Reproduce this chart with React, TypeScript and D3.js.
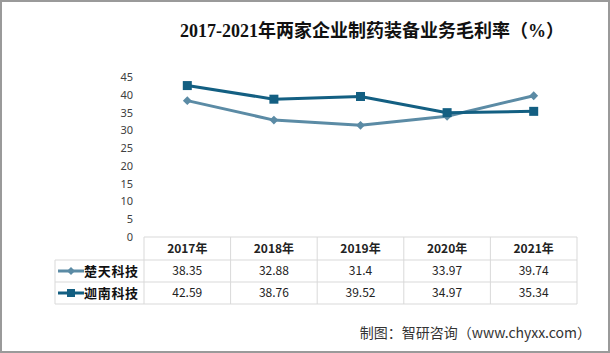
import React, { useRef, useEffect } from 'react';
import * as d3 from 'd3';

const years = ['2017年', '2018年', '2019年', '2020年', '2021年'];
const chutian = [38.35, 32.88, 31.4, 33.97, 39.74];
const jianan = [42.59, 38.76, 39.52, 34.97, 35.34];
const seriesNames = ['楚天科技', '迦南科技'];
const yTicks = [0, 5, 10, 15, 20, 25, 30, 35, 40, 45];

const W = 610;
const H = 353;
const colors = ['#5b8ba5', '#135f82'];

const App = () => {
  const svgRef = useRef<SVGSVGElement>(null);

  useEffect(() => {
    const svg = d3.select(svgRef.current);
    svg.selectAll('*').remove();

    const x = d3.scaleBand().domain(years).range([144, 577]);
    const y = d3.scaleLinear().domain([0, 45]).range([237, 77]);
    const cx = (d: string) => (x(d) as number) + x.bandwidth() / 2;

    svg.append('rect').attr('width', W).attr('height', H).attr('fill', '#fff');
    svg.append('rect')
      .attr('x', 1).attr('y', 1).attr('width', W - 2).attr('height', H - 2)
      .attr('fill', 'none').attr('stroke', '#9a9a9a').attr('stroke-width', 2);

    svg.append('text')
      .attr('x', 372).attr('y', 37)
      .attr('text-anchor', 'middle')
      .attr('font-family', '"Liberation Serif", "Noto Sans CJK SC", serif')
      .attr('font-size', 18)
      .attr('font-weight', 'bold')
      .attr('fill', '#111')
      .text('2017-2021年两家企业制药装备业务毛利率（%）');

    // y axis labels
    svg.append('g').selectAll('text').data(yTicks).join('text')
      .attr('x', 133).attr('y', d => y(d) + 4)
      .attr('text-anchor', 'end')
      .attr('font-family', '"Noto Sans", "DejaVu Sans", sans-serif')
      .attr('font-size', 11)
      .attr('fill', '#404040')
      .text(d => d);

    const all = [chutian, jianan];
    const line = d3.line<number>().x((d, i) => cx(years[i])).y(d => y(d));
    all.forEach((vals, si) => {
      svg.append('path').datum(vals)
        .attr('d', line)
        .attr('fill', 'none')
        .attr('stroke', colors[si])
        .attr('stroke-width', 3)
        .attr('stroke-linejoin', 'round');
      const g = svg.append('g');
      if (si === 0) {
        g.selectAll('path').data(vals).join('path')
          .attr('d', d3.symbol(d3.symbolDiamond2, 50) as any)
          .attr('transform', (d, i) => `translate(${cx(years[i])},${y(d)})`)
          .attr('fill', colors[si]);
      } else {
        g.selectAll('rect').data(vals).join('rect')
          .attr('x', (d, i) => cx(years[i]) - 4.5)
          .attr('y', d => y(d) - 4.5)
          .attr('width', 9).attr('height', 9)
          .attr('fill', colors[si]);
      }
    });

    // data table
    const rowY = [237, 260, 282, 304];
    const left = 55;
    const tbl = svg.append('g').attr('stroke', '#d9d9d9').attr('stroke-width', 1);
    tbl.append('line').attr('x1', 144).attr('x2', 577).attr('y1', rowY[0]).attr('y2', rowY[0]);
    rowY.slice(1).forEach(yy => {
      tbl.append('line').attr('x1', left).attr('x2', 577).attr('y1', yy).attr('y2', yy);
    });
    tbl.append('line').attr('x1', left).attr('x2', left).attr('y1', rowY[1]).attr('y2', rowY[3]);
    years.forEach(yr => {
      tbl.append('line').attr('x1', x(yr) as number).attr('x2', x(yr) as number)
        .attr('y1', rowY[0]).attr('y2', rowY[3]);
    });
    tbl.append('line').attr('x1', 577).attr('x2', 577).attr('y1', rowY[0]).attr('y2', rowY[3]);

    const font = '"Noto Sans CJK SC", "Noto Sans", sans-serif';
    svg.append('g').selectAll('text').data(years).join('text')
      .attr('x', d => cx(d)).attr('y', (rowY[0] + rowY[1]) / 2 + 4)
      .attr('text-anchor', 'middle')
      .attr('font-family', font).attr('font-size', 12).attr('font-weight', 'bold')
      .attr('fill', '#222')
      .text(d => d);

    all.forEach((vals, si) => {
      const my = (rowY[si + 1] + rowY[si + 2]) / 2;
      svg.append('g').selectAll('text').data(vals).join('text')
        .attr('x', (d, i) => cx(years[i])).attr('y', my + 4)
        .attr('text-anchor', 'middle')
        .attr('font-family', font).attr('font-size', 12)
        .attr('fill', '#222')
        .text(d => String(d));
      svg.append('line')
        .attr('x1', 58).attr('x2', 84).attr('y1', my).attr('y2', my)
        .attr('stroke', colors[si]).attr('stroke-width', 3);
      if (si === 0) {
        svg.append('path')
          .attr('d', d3.symbol(d3.symbolDiamond2, 40) as any)
          .attr('transform', `translate(71,${my})`)
          .attr('fill', colors[si]);
      } else {
        svg.append('rect')
          .attr('x', 67).attr('y', my - 4).attr('width', 8).attr('height', 8)
          .attr('fill', colors[si]);
      }
      svg.append('text')
        .attr('x', 84).attr('y', my + 5)
        .attr('font-family', font).attr('font-size', 13).attr('font-weight', 'bold')
        .attr('letter-spacing', 0.7)
        .attr('fill', '#111')
        .text(seriesNames[si]);
    });

    svg.append('text')
      .attr('x', 591).attr('y', 338)
      .attr('text-anchor', 'end')
      .attr('font-family', font)
      .attr('font-size', 14)
      .attr('fill', '#333')
      .text('制图：智研咨询（www.chyxx.com）');
  }, []);

  return (
    <svg ref={svgRef} width={W} height={H}
      style={{ position: 'absolute', left: 0, top: 0, display: 'block' }} />
  );
};

export default App;
